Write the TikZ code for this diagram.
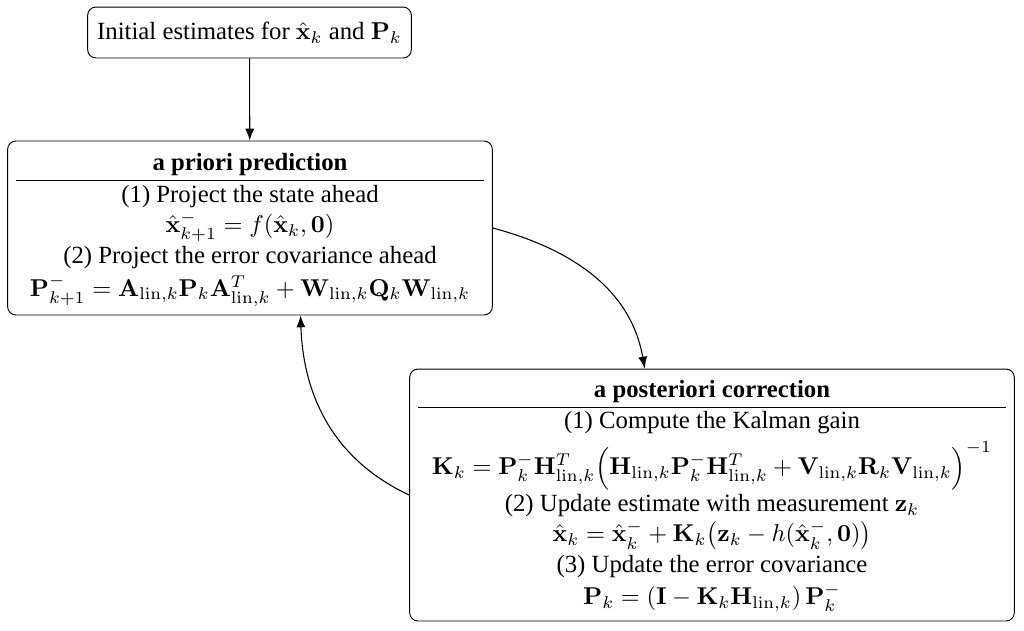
\RequirePackage{fix-cm}
\documentclass[tikz,border=0pt]{standalone}
\usepackage[no-math]{fontspec}
\setmainfont{Liberation Serif}
\usepackage{amsmath}
\usetikzlibrary{arrows.meta}
\newcommand{\bx}{\mathbf{x}}
\newcommand{\lin}{\mathrm{lin},k}
\newcommand{\tx}{\fontsize{10.45}{12.8}\selectfont}
\newcommand{\mx}{\fontsize{10.27}{12.8}\selectfont}
\begin{document}
\begin{tikzpicture}[x=0.4219pt, y=-0.4219pt,
  font=\tx,
  box/.style={draw=black, rounded corners=3.5pt, inner xsep=3.4pt, inner ysep=0pt, align=center, fill=white},
  arr/.style={-{Latex[length=5pt,width=3.8pt]}, line width=0.45pt}]
\useasboundingbox (0,0) rectangle (1024,630);
\node[box, minimum height=21.5pt, inner xsep=4pt] (init) at (249.5,32.5) {Initial estimates for {\mx$\hat{\bx}_k$} and {\mx$\mathbf{P}_k$}};
\node[box, minimum height=73.4pt] (prior) at (250,228) {\begin{tabular}{c}
\textbf{a priori prediction}\\ \hline
(1) Project the state ahead\\
{\mx$\hat{\bx}_{k+1}^{-} = f(\hat{\bx}_k, \mathbf{0})$}\\
(2) Project the error covariance ahead\\[1.2pt]
{\mx$\mathbf{P}_{k+1}^{-} = \mathbf{A}_{\lin}\mathbf{P}_k\mathbf{A}_{\lin}^T + \mathbf{W}_{\lin}\mathbf{Q}_k\mathbf{W}_{\lin}$}
\end{tabular}};
\node[box, minimum height=106.3pt] (post) at (712,495) {\begin{tabular}{c}
\textbf{a posteriori correction}\\ \hline
(1) Compute the Kalman gain\\[1.5pt]
{\mx$\mathbf{K}_k = \mathbf{P}_k^{-}\mathbf{H}_{\lin}^T \Bigl(\mathbf{H}_{\lin}\mathbf{P}_k^{-}\mathbf{H}_{\lin}^T + \mathbf{V}_{\lin}\mathbf{R}_k\mathbf{V}_{\lin}\Bigr)^{-1}$}\\
(2) Update estimate with measurement {\mx$\mathbf{z}_k$}\\
{\mx$\hat{\bx}_k = \hat{\bx}_k^{-} + \mathbf{K}_k\bigl(\mathbf{z}_k - h(\hat{\bx}_k^{-}, \mathbf{0})\bigr)$}\\
(3) Update the error covariance\\[0.8pt]
{\mx$\mathbf{P}_k = \left(\mathbf{I} - \mathbf{K}_k\mathbf{H}_{\lin}\right)\mathbf{P}_k^{-}$}
\end{tabular}};
\draw[arr] (init) -- (prior);
\draw[arr] (prior.east) to[out=-15, in=100] (post.118);
\draw[arr] (post.west) to[out=155, in=-88] (prior.-60);
\end{tikzpicture}
\end{document}
